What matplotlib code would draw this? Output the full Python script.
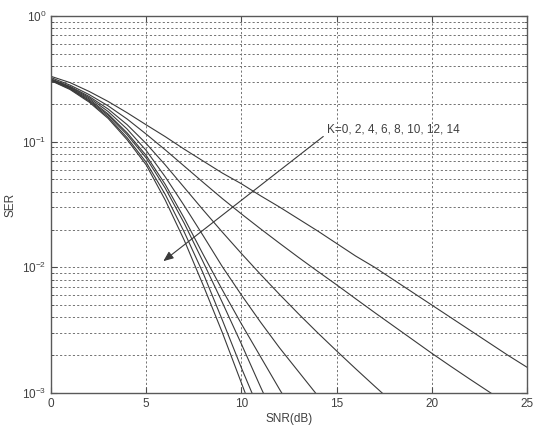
import numpy as np
import matplotlib
matplotlib.use("Agg")
import matplotlib.pyplot as plt
from matplotlib.ticker import LogLocator, NullFormatter, FixedLocator

plt.rcParams['font.family'] = ['Liberation Sans', 'DejaVu Sans']

snr_db = [0, 1, 2, 3, 4, 5, 6, 7, 8, 9, 10, 11, 12, 13, 14, 15, 16, 17, 18, 19, 20, 21, 22, 23, 24, 25]

# log10(SER), per Rician K factor
log_ser_k0 = [-0.48, -0.53, -0.60, -0.68, -0.77, -0.866, -0.96, -1.06, -1.155, -1.25, -1.335, -1.43, -1.52,
              -1.615, -1.71, -1.81, -1.91, -2.0, -2.1, -2.2, -2.3, -2.4, -2.5, -2.6, -2.7, -2.795]
log_ser_k2 = [-0.49, -0.55, -0.625, -0.715, -0.82, -0.94, -1.065, -1.195, -1.325, -1.453, -1.575, -1.693, -1.808,
              -1.921, -2.031, -2.139, -2.25, -2.36, -2.468, -2.576, -2.684, -2.788, -2.89, -2.99, -3.09, -3.19]
log_ser_k4 = [-0.50, -0.56, -0.64, -0.74, -0.865, -1.015, -1.185, -1.365, -1.545, -1.72, -1.89, -2.055, -2.215,
              -2.37, -2.52, -2.665, -2.807, -2.946, -3.083]
log_ser_k6 = [-0.505, -0.565, -0.65, -0.76, -0.90, -1.07, -1.28, -1.51, -1.75, -1.995, -2.22, -2.435, -2.64,
              -2.83, -3.02]
log_ser_k8 = [-0.508, -0.57, -0.66, -0.78, -0.93, -1.11, -1.34, -1.61, -1.90, -2.18, -2.45, -2.71, -2.97, -3.22]
log_ser_k10 = [-0.51, -0.575, -0.67, -0.79, -0.945, -1.13, -1.37, -1.65, -1.96, -2.28, -2.61, -2.95, -3.28]
log_ser_k12 = [-0.512, -0.58, -0.677, -0.804, -0.969, -1.164, -1.42, -1.72, -2.05, -2.42, -2.80, -3.16]
log_ser_k14 = [-0.515, -0.585, -0.685, -0.815, -0.985, -1.185, -1.465, -1.785, -2.145, -2.52, -2.92, -3.32]

series = [log_ser_k0, log_ser_k2, log_ser_k4, log_ser_k6, log_ser_k8, log_ser_k10, log_ser_k12, log_ser_k14]

x_ticks = [0, 5, 10, 15, 20, 25]
label_text = 'K=0, 2, 4, 6, 8, 10, 12, 14'

fig = plt.figure(figsize=(5.4, 4.25), dpi=100)
ax = fig.add_axes([51/540, 1-393/425, (527-51)/540, (393-16)/425])

for s in series:
    xs = snr_db[:len(s)]
    ax.semilogy(xs, 10.0 ** np.array(s), color='#3a3a3a', lw=0.8)

ax.set_xlim(0, 25)
ax.set_ylim(1e-3, 1)
ax.xaxis.set_major_locator(FixedLocator(x_ticks))
ax.yaxis.set_major_locator(LogLocator(base=10, numticks=10))
ax.yaxis.set_minor_locator(LogLocator(base=10, subs=np.arange(2, 10), numticks=10))
ax.yaxis.set_minor_formatter(NullFormatter())

gkw = dict(color='0.45', linestyle=(0, (2.2, 2.2)), lw=0.7)
ax.grid(True, which='major', axis='both', **gkw)
ax.grid(True, which='minor', axis='y', **gkw)

ax.tick_params(which='both', direction='in', top=True, right=True, labelsize=8.5,
               colors='0.3', labelcolor='0.25')
ax.tick_params(which='major', length=4)
ax.tick_params(which='minor', length=2)
for sp in ax.spines.values():
    sp.set_color('0.35')
    sp.set_linewidth(1.0)

ax.set_xlabel('SNR(dB)', fontsize=8.5, color='0.25', labelpad=2)
ax.set_ylabel('SER', fontsize=8.5, color='0.25', labelpad=4)

ax.annotate('', xy=(5.9, 0.0112), xytext=(14.3, 0.11),
            arrowprops=dict(arrowstyle='-|>,head_length=0.6,head_width=0.25', color='#3a3a3a', lw=0.8,
                            shrinkA=0, shrinkB=0))
ax.text(14.48, 0.1256, label_text, fontsize=8.5, color='0.25', va='center', ha='left')

fig.savefig('out.png', dpi=100)
